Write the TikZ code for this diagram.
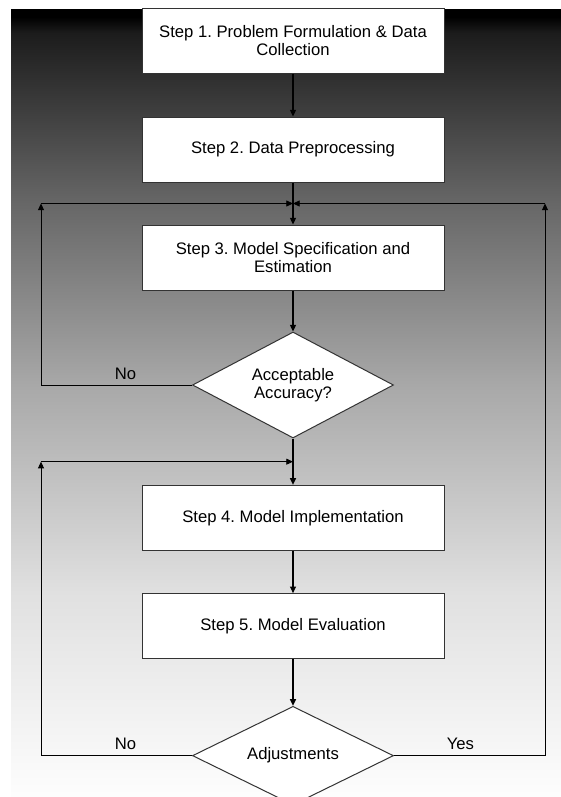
\documentclass[tikz,border=0pt]{standalone}
\usepackage{fontspec}
\setmainfont{Liberation Sans}
\usetikzlibrary{shapes.geometric,arrows.meta,positioning,calc}
\definecolor{edgegray}{RGB}{51,51,51}
\pgfdeclareverticalshading{bgfade}{100bp}{color(0bp)=(white); color(25bp)=(white); color(28.5bp)=(black!3); color(38.5bp)=(black!12); color(51.5bp)=(black!34); color(63bp)=(black!60); color(73.5bp)=(black!89); color(74.5bp)=(black); color(100bp)=(black)}

\begin{document}
\frenchspacing
\begin{tikzpicture}[x=0.75pt, y=-0.75pt, font=\fontsize{12.5}{13.5}\selectfont,
    stepbox/.style={rectangle, draw=edgegray, line width=0.75pt, fill=white, minimum width=226.5pt, minimum height=48.75pt, align=center, inner sep=2pt},
    choice/.style={diamond, draw=edgegray, line width=0.75pt, fill=white, minimum width=150.75pt, aspect=2, inner sep=0pt, align=center},
    flow/.style={-{Triangle[length=5pt,width=4.5pt]}, line width=0.9pt, black},
    loop/.style={flow, line width=0.6pt},
    answer/.style={above, inner sep=4pt}]

    \useasboundingbox (0,0) rectangle (561,797);
    \clip (0,0) rectangle (561,797);
    \shade[shading=bgfade] (11,9) rectangle (561,810);

    \node[stepbox] (s1) at (293,40.5) {Step 1. Problem Formulation \& Data\\Collection};
    \node[stepbox, below=32.25pt of s1] (s2) {Step 2. Data Preprocessing};
    \node[stepbox, below=31.5pt of s2] (s3) {Step 3. Model Specification and\\Estimation};
    \node[choice, minimum height=79.5pt, below=30.75pt of s3] (acc) {Acceptable\\Accuracy?};
    \node[stepbox, below=34.75pt of acc] (s4) {Step 4. Model Implementation};
    \node[stepbox, below=31.75pt of s4] (s5) {Step 5. Model Evaluation};
    \node[choice, minimum height=74pt, below=35pt of s5] (adj) {Adjustments};

    % loop columns and junctions
    \coordinate (lft) at (41,0);
    \coordinate (rgt) at (545,0);
    \coordinate (j1) at ($(s2.south)!0.5!(s3.north)$);
    \coordinate (j2) at ($(acc.south)!0.5!(s4.north)$);

    % main line
    \draw[flow] (s1) -- (s2);
    \draw[flow] (s2) -- (s3);
    \draw[flow] (s3) -- (acc);
    \draw[flow] (acc) -- (s4);
    \draw[flow] (s4) -- (s5);
    \draw[flow] (s5) -- (adj);

    % back to step 3
    \draw[loop] (acc.west) -| node[answer, pos=0.22]{No} (lft |- j1);
    \draw[loop] (lft |- j1) -- (j1);
    \draw[loop] (adj.east) -| node[answer, pos=0.22]{Yes} (rgt |- j1);
    \draw[loop] (rgt |- j1) -- (j1);

    % back to step 4
    \draw[loop] (adj.west) -| node[answer, pos=0.22]{No} (lft |- j2);
    \draw[loop] (lft |- j2) -- (j2);
\end{tikzpicture}
\end{document}
